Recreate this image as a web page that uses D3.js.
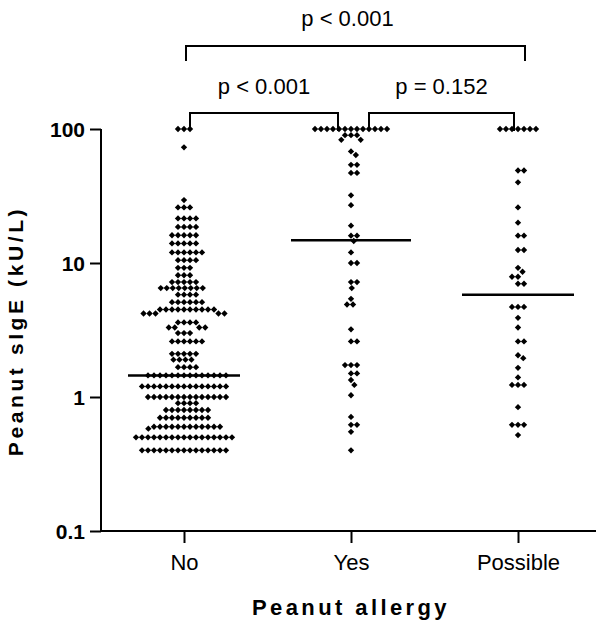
<!DOCTYPE html>
<html>
<head>
<meta charset="utf-8">
<script src="https://cdn.jsdelivr.net/npm/d3@7"></script>
<style>
  body { margin: 0; background: #fff; }
  svg { display: block; font-family: "Liberation Sans", Arial, sans-serif; }
</style>
</head>
<body>
<script>
var categories = ["No", "Yes", "Possible"];

var noRows = [[100,3],[73,1],[29.5,1],[26,3],[21.5,4],[18.6,4],[16.1,5],[14,5],[12,6],
  [10.5,4],[9.2,3],[8.1,3],[7.2,5],[6.5,8],[5.8,4],[5.1,6],[4.5,10],[4.2,5],[3.6,4],
  [3.3,4],[3.0,3],[2.6,6],[2.1,5],[1.9,4],[1.67,4],[1.45,14],[1.2,15],[1.0,14],[0.9,4],
  [0.8,8],[0.7,9],[0.6,12],[0.58,1],[0.5,17],[0.4,15]];

var yesRows = [[100,13],[90,3],[83,2],[68,1],[64,1],[54,2],[47,2],[32,1],[27,1],[19,1],
  [16,2],[14.6,1],[12,1],[10,2],[7.2,2],[6.5,1],[5.4,1],[4.9,2],[3.2,1],[2.6,2],[1.73,3],
  [1.5,2],[1.34,1],[1.23,1],[1.03,1],[0.71,1],[0.62,2],[0.55,1],[0.4,1]];

var possibleRows = [[100,7],[49,2],[40,1],[26,1],[20,1],[16,2],[12.5,2],[9.2,1],[8.6,1],
  [7.9,2],[7,2],[4.7,3],[3.9,1],[3.3,1],[2.6,2],[2.05,1],[1.95,1],[1.65,1],[1.4,1],
  [1.23,3],[0.84,1],[0.62,3],[0.52,1]];

var medians = [1.45, 14.8, 5.8];

var yTicks = [0.1, 1, 10, 100];
var yTickLabels = ["0.1", "1", "10", "100"];

// pairwise comparisons (category index pairs) and their p values
var comparisons = [
  { from: 0, to: 2, label: "p < 0.001" },
  { from: 0, to: 1, label: "p < 0.001" },
  { from: 1, to: 2, label: "p = 0.152" }
];

var width = 600, height = 627;

var svg = d3.select("body").append("svg")
    .attr("width", width)
    .attr("height", height);

var x = d3.scalePoint()
    .domain(categories)
    .range([184, 518]);

var y = d3.scaleLog()
    .domain([0.1, 100])
    .range([531, 129]);

// axes
var yAxis = svg.append("g")
    .attr("transform", "translate(101,0)")
    .call(d3.axisLeft(y).tickValues(yTicks)
      .tickFormat(function(d, i) { return yTickLabels[i]; })
      .tickSize(11).tickPadding(5));

var xAxis = svg.append("g")
    .attr("transform", "translate(0,531)")
    .call(d3.axisBottom(x).tickSize(12).tickPadding(11));

svg.selectAll(".domain").remove();
svg.append("line").attr("x1", 101).attr("x2", 101).attr("y1", 129).attr("y2", 532)
    .attr("stroke", "#000").attr("stroke-width", 2);
svg.append("line").attr("x1", 100).attr("x2", 596).attr("y1", 531).attr("y2", 531)
    .attr("stroke", "#000").attr("stroke-width", 2);

yAxis.selectAll("line").attr("stroke-width", 2);
yAxis.selectAll("text")
    .style("font-size", "21px").style("font-weight", "bold")
    .attr("dy", "0.35em");
xAxis.selectAll("line").attr("stroke-width", 2);
xAxis.selectAll("text").style("font-size", "22px");

// axis titles
svg.append("text")
    .attr("x", 351).attr("y", 615)
    .attr("text-anchor", "middle")
    .style("font-size", "22px").style("font-weight", "bold")
    .style("letter-spacing", "3.4px")
    .text("Peanut allergy");

svg.append("text")
    .attr("transform", "translate(23,331) rotate(-90)")
    .attr("text-anchor", "middle")
    .style("font-size", "21px").style("font-weight", "bold")
    .style("letter-spacing", "3.6px")
    .text("Peanut sIgE (kU/L)");

// beeswarm layout per category
var diam = 6;
function swarm(rows, cx) {
  var pts = [];
  rows.forEach(function(r) {
    for (var k = 0; k < r[1]; k++) pts.push({ v: r[0], y: y(r[0]) });
  });
  var placed = [];
  pts.forEach(function(p) {
    var near = placed.filter(function(q) { return Math.abs(q.y - p.y) < diam; });
    var cands = [0];
    near.forEach(function(q) {
      var dx = Math.sqrt(diam * diam - (q.y - p.y) * (q.y - p.y));
      cands.push(q.dx + dx, q.dx - dx);
    });
    cands.sort(function(a, b) { return Math.abs(a) - Math.abs(b) || b - a; });
    for (var i = 0; i < cands.length; i++) {
      var c = cands[i];
      var ok = near.every(function(q) {
        var ddx = q.dx - c, ddy = q.y - p.y;
        return ddx * ddx + ddy * ddy >= diam * diam - 0.01;
      });
      if (ok) { p.dx = c; break; }
    }
    placed.push(p);
  });
  placed.forEach(function(p) { p.x = cx + p.dx; });
  return placed;
}

var groups = [noRows, yesRows, possibleRows];
var dot = d3.symbol().type(d3.symbolSquare).size(20);

groups.forEach(function(rows, i) {
  var pts = swarm(rows, x(categories[i]));
  svg.append("g").selectAll("path")
      .data(pts)
    .enter().append("path")
      .attr("d", dot)
      .attr("fill", "#000")
      .attr("transform", function(d) { return "translate(" + d.x + "," + d.y + ") rotate(45)"; });
});

// median lines
var medHalf = [56, 60, 56];
svg.append("g").selectAll("line")
    .data(medians)
  .enter().append("line")
    .attr("x1", function(d, i) { return x(categories[i]) - medHalf[i]; })
    .attr("x2", function(d, i) { return x(categories[i]) + medHalf[i]; })
    .attr("y1", function(d) { return y(d); })
    .attr("y2", function(d) { return y(d); })
    .attr("stroke", "#000")
    .attr("stroke-width", 2.5);

// significance brackets
var brackets = [
  { top: 46, drop: 15, x1: x(categories[0]) + 2, x2: x(categories[2]) + 7, ty: 26 },
  { top: 113, drop: 18, x1: x(categories[0]) + 6, x2: x(categories[1]) - 13, ty: 94 },
  { top: 113, drop: 18, x1: x(categories[1]) + 18, x2: x(categories[2]) - 4, ty: 94 }
];

brackets.forEach(function(b, i) {
  svg.append("path")
      .attr("d", "M" + b.x1 + "," + (b.top + b.drop) + "V" + b.top + "H" + b.x2 + "V" + (b.top + b.drop))
      .attr("fill", "none")
      .attr("stroke", "#000")
      .attr("stroke-width", 2);
  svg.append("text")
      .attr("x", (b.x1 + b.x2) / 2 - (i === 0 ? 8 : 0))
      .attr("y", b.ty)
      .attr("text-anchor", "middle")
      .style("font-size", "22px")
      .text(comparisons[i].label);
});
</script>
</body>
</html>
